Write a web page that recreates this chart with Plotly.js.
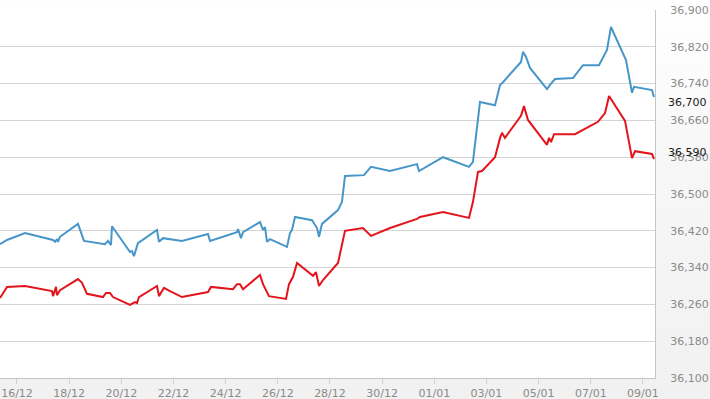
<!DOCTYPE html>
<html>
<head>
<meta charset="utf-8">
<script src="https://cdn.plot.ly/plotly-3.0.1.min.js"></script>
<style>html,body{margin:0;padding:0;}body{background:linear-gradient(to bottom,#ffffff 0%,#f7f7f7 40%,#f1f1f1 100%);}#chart{width:710px;height:399px;}</style>
</head>
<body>
<div id="chart"></div>
<script>
const blueDates = [
 "2024-12-15 08:24","2024-12-15 14:48","2024-12-16 07:22","2024-12-17 09:07","2024-12-17 11:00",
 "2024-12-17 12:48","2024-12-17 13:44","2024-12-17 15:34","2024-12-18 08:08","2024-12-18 13:39",
 "2024-12-19 09:00","2024-12-19 11:44","2024-12-19 14:30","2024-12-19 15:25","2024-12-20 08:00",
 "2024-12-20 09:49","2024-12-20 11:39","2024-12-20 15:18","2024-12-21 08:49","2024-12-21 10:40",
 "2024-12-21 14:21","2024-12-22 07:50","2024-12-23 07:46","2024-12-23 09:36","2024-12-24 10:26",
 "2024-12-24 11:22","2024-12-24 14:07","2024-12-24 16:00","2024-12-25 07:37","2024-12-25 10:23",
 "2024-12-25 12:13","2024-12-25 14:03","2024-12-25 16:48","2024-12-26 08:27","2024-12-26 11:13",
 "2024-12-26 13:03","2024-12-26 15:49","2024-12-27 07:28","2024-12-27 12:04","2024-12-27 13:54",
 "2024-12-27 16:39","2024-12-28 07:23","2024-12-28 11:03","2024-12-28 13:49","2024-12-29 07:18",
 "2024-12-29 13:45","2024-12-30 07:14","2024-12-31 08:05","2024-12-31 09:55","2025-01-01 08:00",
 "2025-01-02 07:55","2025-01-02 11:35","2025-01-02 12:30","2025-01-02 18:03","2025-01-03 07:52",
 "2025-01-03 12:30","2025-01-03 15:14","2025-01-04 07:46","2025-01-04 09:36","2025-01-04 12:22",
 "2025-01-04 16:04","2025-01-05 07:42","2025-01-05 10:28","2025-01-05 15:04","2025-01-06 07:38",
 "2025-01-06 16:50","2025-01-07 07:33","2025-01-07 11:14","2025-01-07 14:54","2025-01-07 18:34",
 "2025-01-08 08:24","2025-01-08 13:55","2025-01-08 15:46","2025-01-09 08:20","2025-01-09 10:11"
];
const blueValues = [
 36391,36400,36415,36400,36396,
 36402,36396,36407,36435,36398,
 36391,36398,36389,36430,36374,
 36376,36365,36393,36422,36396,
 36404,36398,36413,36398,36417,
 36424,36404,36417,36439,36422,
 36428,36396,36402,36385,36415,
 36422,36450,36443,36426,36407,
 36435,36465,36483,36539,36541,
 36559,36550,36565,36550,36580,
 36559,36570,36589,36700,36693,
 36737,36743,36787,36809,36798,
 36774,36728,36737,36750,36752,
 36780,36780,36796,36813,36863,
 36791,36720,36733,36726,36711
];
const redDates = [
 "2024-12-15 08:24","2024-12-15 14:48","2024-12-16 07:22","2024-12-17 08:12","2024-12-17 09:07",
 "2024-12-17 11:53","2024-12-17 12:48","2024-12-17 15:34","2024-12-18 08:08","2024-12-18 11:49",
 "2024-12-18 16:25","2024-12-19 07:08","2024-12-19 09:54","2024-12-19 13:35","2024-12-19 16:20",
 "2024-12-20 08:00","2024-12-20 12:35","2024-12-20 14:25","2024-12-20 16:16","2024-12-21 08:49",
 "2024-12-21 10:40","2024-12-21 15:16","2024-12-21 20:47","2024-12-22 07:50","2024-12-23 07:46",
 "2024-12-23 10:31","2024-12-24 06:46","2024-12-24 10:26","2024-12-24 13:12","2024-12-24 16:00",
 "2024-12-25 07:37","2024-12-25 10:23","2024-12-25 15:53","2024-12-26 07:32","2024-12-26 10:18",
 "2024-12-26 14:00","2024-12-26 17:41","2024-12-27 08:23","2024-12-27 11:09","2024-12-27 13:54",
 "2024-12-27 17:35","2024-12-28 07:23","2024-12-28 13:49","2024-12-29 06:23","2024-12-29 13:45",
 "2024-12-30 07:14","2024-12-31 08:05","2024-12-31 10:50","2025-01-01 08:00","2025-01-02 07:55",
 "2025-01-02 11:35","2025-01-02 16:13","2025-01-02 19:54","2025-01-03 07:52","2025-01-03 12:30",
 "2025-01-03 14:18","2025-01-03 17:00","2025-01-04 07:46","2025-01-04 10:30","2025-01-04 14:12",
 "2025-01-05 07:42","2025-01-05 09:36","2025-01-05 11:24","2025-01-05 14:12","2025-01-06 09:30",
 "2025-01-07 06:36","2025-01-07 13:06","2025-01-07 16:48","2025-01-08 07:30","2025-01-08 12:06",
 "2025-01-08 13:55","2025-01-08 16:42","2025-01-09 08:20","2025-01-09 10:11"
];
const redValues = [
 36274,36298,36300,36289,36278,
 36298,36280,36291,36315,36307,
 36283,36276,36285,36285,36276,
 36259,36265,36263,36276,36300,
 36278,36296,36289,36276,36287,
 36298,36293,36304,36304,36293,
 36324,36304,36278,36272,36304,
 36320,36350,36322,36330,36300,
 36313,36350,36420,36426,36409,
 36426,36446,36450,36461,36448,
 36483,36548,36550,36580,36622,
 36633,36622,36670,36691,36661,
 36607,36622,36613,36630,36630,
 36657,36676,36713,36659,36600,
 36578,36593,36587,36576
];
const lastLabels = ["36,700", "36,590"];
const lastLabelValues = [36700, 36590];

const traces = [
  {x: blueDates, y: blueValues, type: "scatter", mode: "lines",
   line: {color: "#4796c8", width: 2}, hoverinfo: "skip"},
  {x: redDates, y: redValues, type: "scatter", mode: "lines",
   line: {color: "#e3141c", width: 2}, hoverinfo: "skip"}
];

const layout = {
  width: 710, height: 399,
  margin: {l: 0, r: 55, t: 10, b: 21, pad: 0},
  paper_bgcolor: "rgba(0,0,0,0)",
  plot_bgcolor: "#ffffff",
  showlegend: false,
  font: {family: "DejaVu Sans, Verdana, sans-serif", size: 11, color: "#8a8a8a"},
  xaxis: {
    type: "date",
    range: ["2024-12-15 08:22", "2025-01-09 11:05"],
    tick0: "2024-12-16", dtick: 2 * 86400000,
    tickformat: "%d/%m",
    showgrid: false, zeroline: false,
    showline: true, linecolor: "#c4c4c4", linewidth: 1,
    ticks: "outside", ticklen: 5, tickcolor: "#d0d0d0",
    tickfont: {size: 11, color: "#8a8a8a"}
  },
  yaxis: {
    side: "right",
    range: [36100, 36900],
    tick0: 36100, dtick: 80,
    tickformat: ",d",
    showgrid: true, gridcolor: "#d4d4d4", gridwidth: 1,
    zeroline: false,
    showline: true, linecolor: "#c4c4c4", linewidth: 1,
    ticks: "outside", ticklen: 12, tickcolor: "rgba(0,0,0,0)",
    tickfont: {size: 11, color: "#8a8a8a"}
  },
  annotations: lastLabels.map((t, i) => ({
    xref: "paper", yref: "y", x: 1, y: lastLabelValues[i],
    xanchor: "left", yanchor: "middle", xshift: 11,
    text: t, showarrow: false,
    font: {family: "DejaVu Sans, Verdana, sans-serif", size: 11, color: "#1a1a1a"}
  }))
};

Plotly.newPlot("chart", traces, layout, {staticPlot: true, displayModeBar: false});
</script>
</body>
</html>
